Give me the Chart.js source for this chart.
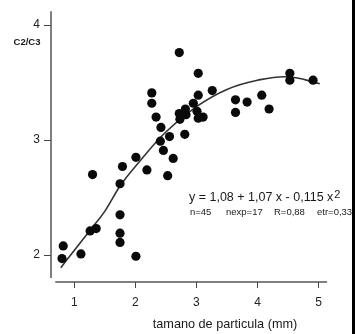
<!DOCTYPE html>
<html>
<head>
<meta charset="utf-8">
<script src="https://cdn.jsdelivr.net/npm/chart.js@4.4.0/dist/chart.umd.min.js"></script>
<style>
html, body { margin: 0; padding: 0; background: #fff; }
#wrap { width: 355px; height: 334px; }
</style>
</head>
<body>
<div id="wrap"><canvas id="chart" width="355" height="334"></canvas></div>
<script>
// measured points (particle size mm vs C2/C3)
const particleSize = [0.80, 0.82, 1.11, 1.30, 1.26, 1.36, 1.75, 1.79, 1.75, 1.75, 1.75, 2.01, 2.01, 2.19,
    2.27, 2.27, 2.34, 2.42, 2.56, 2.41, 2.46, 2.62, 2.53, 2.72, 2.81, 2.72, 2.73, 2.82, 2.83,
    3.03, 3.03, 2.95, 3.01, 3.03, 3.11, 3.26, 3.64, 3.64, 3.83, 4.07, 4.19, 4.53, 4.53, 4.91];
const ratioC2C3 = [1.97, 2.08, 2.01, 2.70, 2.21, 2.23, 2.62, 2.77, 2.35, 2.19, 2.11, 1.99, 2.85, 2.74,
    3.41, 3.32, 3.20, 3.11, 3.03, 2.99, 2.91, 2.84, 2.69, 3.76, 3.05, 3.23, 3.18, 3.27, 3.22,
    3.58, 3.39, 3.32, 3.25, 3.19, 3.20, 3.43, 3.35, 3.24, 3.33, 3.39, 3.27, 3.58, 3.52, 3.52];

// fitted curve
const fitX = [0.78, 1.0, 1.25, 1.5, 1.75, 2.0, 2.5, 3.0, 3.5, 4.0, 4.5, 5.02];
const fitY = [1.89, 2.04, 2.21, 2.38, 2.60, 2.77, 3.07, 3.29, 3.44, 3.52, 3.55, 3.49];

const xTicks = [1, 2, 3, 4, 5];
const yTicks = [2, 3, 4];

const xTitle = 'tamano de particula (mm)';
const yTitle = 'C2/C3';
const equation = 'y = 1,08 + 1,07 x - 0,115 x';
const stats = ['n=45', 'nexp=17', 'R=0,88', 'etr=0,33'];

const FONT = '"Liberation Sans", Arial, sans-serif';

const extras = {
    id: 'extras',
    afterDraw(chart) {
        const c = chart.ctx;
        const xs = chart.scales.x, ys = chart.scales.y;
        c.save();
        // separated axis lines
        c.strokeStyle = '#555';
        c.lineWidth = 1.5;
        c.beginPath();
        c.moveTo(chart.chartArea.left, ys.getPixelForValue(4.12));
        c.lineTo(chart.chartArea.left, ys.getPixelForValue(1.8));
        c.stroke();
        c.lineWidth = 1.3;
        c.beginPath();
        c.moveTo(xs.getPixelForValue(0.69), chart.chartArea.bottom);
        c.lineTo(xs.getPixelForValue(5.14), chart.chartArea.bottom);
        c.stroke();

        c.fillStyle = '#1a1a1a';
        c.textBaseline = 'alphabetic';
        c.textAlign = 'center';
        c.font = '12.7px ' + FONT;
        c.fillText(xTitle, 225, 328);

        c.font = 'bold 9.5px ' + FONT;
        c.fillText(yTitle, 27, 45);

        c.textAlign = 'left';
        c.font = '12.5px ' + FONT;
        c.fillText(equation, 189, 200.5);
        const w = c.measureText(equation).width;
        c.font = '11px ' + FONT;
        c.fillText('2', 189 + w + 1, 198);

        c.font = '9.5px ' + FONT;
        const sx = [190, 226, 274, 317];
        stats.forEach((s, i) => c.fillText(s, sx[i], 215));

        // dark scan edge on the right
        c.fillStyle = '#000';
        c.fillRect(352, 0, 3, chart.height);
        c.restore();
    }
};

new Chart(document.getElementById('chart'), {
    type: 'scatter',
    data: {
        datasets: [{
            data: particleSize.map((x, i) => ({ x: x, y: ratioC2C3[i] })),
            backgroundColor: '#0a0a0a',
            borderWidth: 0,
            pointRadius: 4.6
        }, {
            data: fitX.map((x, i) => ({ x: x, y: fitY[i] })),
            showLine: true,
            borderColor: '#333',
            borderWidth: 1.6,
            tension: 0.4,
            pointRadius: 0
        }]
    },
    options: {
        responsive: false,
        animation: false,
        devicePixelRatio: 1,
        layout: { padding: { top: 3, right: 12, left: 0, bottom: 0 } },
        plugins: { legend: { display: false }, tooltip: { enabled: false } },
        scales: {
            x: {
                type: 'linear',
                min: 0.62,
                max: 5.4,
                afterBuildTicks: s => { s.ticks = xTicks.map(v => ({ value: v })); },
                afterFit: s => { s.height = 52; },
                grid: { drawOnChartArea: false, drawTicks: true, tickLength: 6, tickColor: '#444', tickWidth: 1 },
                border: { display: false },
                ticks: { padding: 7, color: '#222', font: { family: FONT, size: 12 } }
            },
            y: {
                type: 'linear',
                min: 1.766,
                max: 4.12,
                afterBuildTicks: s => { s.ticks = yTicks.map(v => ({ value: v })); },
                afterFit: s => { s.width = 51; },
                grid: { drawOnChartArea: false, drawTicks: true, tickLength: 7, tickColor: '#444', tickWidth: 1 },
                border: { display: false },
                ticks: { padding: 4, color: '#222', font: { family: FONT, size: 12 } }
            }
        }
    },
    plugins: [extras]
});
</script>
</body>
</html>
